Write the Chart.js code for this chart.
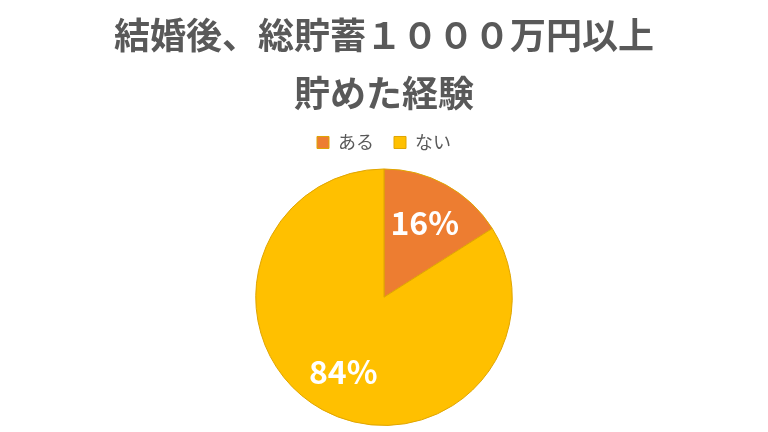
<!DOCTYPE html>
<html>
<head>
<meta charset="utf-8">
<script src="https://cdn.jsdelivr.net/npm/chart.js@4"></script>
<style>
  body { margin: 0; background: #fff; }
  #wrap { width: 768px; height: 432px; }
</style>
</head>
<body>
<div id="wrap"><canvas id="chart" width="768" height="432"></canvas></div>
<script>
// data
const categories = ['ある', 'ない'];
const shares = [16, 84];
const sliceColors = ['#ED7D31', '#FFC000'];
const titleLines = ['結婚後、総貯蓄１０００万円以上', '貯めた経験'];

const font = '"Noto Sans CJK JP", "Noto Sans", sans-serif';

// white percentage labels inside the slices
const sliceLabels = {
  id: 'sliceLabels',
  afterDatasetsDraw(chart) {
    const ctx = chart.ctx;
    const meta = chart.getDatasetMeta(0);
    ctx.save();
    ctx.fillStyle = '#fff';
    ctx.font = 'bold 32px ' + font;
    ctx.textAlign = 'center';
    ctx.textBaseline = 'middle';
    meta.data.forEach((arc, i) => {
      const p = arc.getProps(['x', 'y', 'startAngle', 'endAngle', 'outerRadius']);
      const mid = (p.startAngle + p.endAngle) / 2;
      const r = p.outerRadius * 0.66;
      ctx.fillText(shares[i] + '%', p.x + Math.cos(mid) * r, p.y + Math.sin(mid) * r);
    });
    ctx.restore();
  }
};

// a bit more room between the legend and the pie
const legendGap = {
  id: 'legendGap',
  beforeInit(chart) {
    const fit = chart.legend.fit;
    chart.legend.fit = function () {
      fit.call(this);
      this.height += 7;
    };
  }
};

new Chart(document.getElementById('chart'), {
  type: 'pie',
  data: {
    labels: categories,
    datasets: [{
      data: shares,
      backgroundColor: sliceColors,
      borderColor: '#E0A500',
      borderWidth: 1
    }]
  },
  options: {
    responsive: false,
    animation: false,
    layout: { padding: { top: 0, bottom: 6 } },
    plugins: {
      title: {
        display: true,
        text: titleLines,
        color: '#595959',
        font: { family: font, size: 36, weight: 'bold', lineHeight: 1.59 },
        padding: { top: 7, bottom: -8 }
      },
      legend: {
        position: 'top',
        labels: {
          color: '#595959',
          font: { family: font, size: 18 },
          boxWidth: 12,
          boxHeight: 12,
          padding: 20
        }
      },
      tooltip: { enabled: false }
    }
  },
  plugins: [sliceLabels, legendGap]
});
</script>
</body>
</html>
